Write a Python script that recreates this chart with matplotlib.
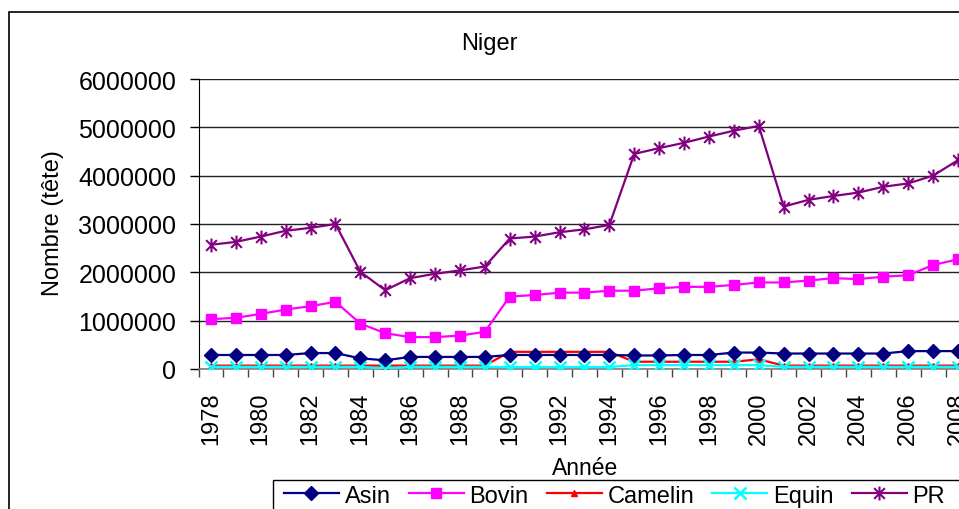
import matplotlib
matplotlib.use("Agg")
import matplotlib.pyplot as plt
from matplotlib.path import Path
from matplotlib.patches import Rectangle

# ── Data ──────────────────────────────────────────────────────────────────────
YEARS = list(range(1978, 2009))

ASIN = [290000, 290000, 290000, 290000, 330000, 330000, 220000, 180000,
        250000, 250000, 250000, 250000, 290000, 290000, 290000, 290000,
        290000, 280000, 280000, 290000, 290000, 340000, 340000, 320000,
        320000, 320000, 320000, 320000, 370000, 370000, 370000]

BOVIN = [1030000, 1060000, 1140000, 1230000, 1300000, 1390000, 940000, 740000,
         660000, 660000, 690000, 770000, 1500000, 1530000, 1580000, 1580000,
         1620000, 1620000, 1670000, 1700000, 1700000, 1740000, 1790000, 1790000,
         1830000, 1880000, 1860000, 1910000, 1940000, 2150000, 2270000]

CAMELIN = [70000, 70000, 70000, 70000, 70000, 70000, 70000, 70000,
           70000, 70000, 70000, 70000, 355000, 355000, 355000, 355000,
           355000, 150000, 150000, 150000, 150000, 150000, 200000, 70000,
           70000, 70000, 70000, 70000, 70000, 70000, 70000]

EQUIN = [45000, 45000, 45000, 45000, 45000, 45000, 45000, 10000,
         45000, 45000, 45000, 45000, 40000, 40000, 40000, 40000,
         40000, 80000, 80000, 80000, 80000, 80000, 80000, 45000,
         45000, 45000, 45000, 45000, 45000, 45000, 45000]

PR = [2570000, 2630000, 2740000, 2860000, 2920000, 3000000, 2010000, 1630000,
      1880000, 1970000, 2040000, 2120000, 2700000, 2740000, 2830000, 2890000,
      2980000, 4450000, 4570000, 4680000, 4810000, 4930000, 5030000, 3360000,
      3500000, 3580000, 3650000, 3770000, 3840000, 4000000, 4320000]

Y_TICKS = [0, 1000000, 2000000, 3000000, 4000000, 5000000, 6000000]

# ── Figure ────────────────────────────────────────────────────────────────────
W, H = 959, 510
plt.rcParams["font.family"] = ["Liberation Sans", "DejaVu Sans"]
fig = plt.figure(figsize=(W / 100, H / 100), dpi=100)
fig.patch.set_facecolor("white")

# plot area runs past the right edge of the picture (cropped like the original)
px_year = 24.9
ax_left = 198.5
ax_w = 31 * px_year
ax = fig.add_axes([ax_left / W, 140 / H, ax_w / W, 290 / H])

# outer chart border
fig.patches.append(Rectangle((8.5 / W, -0.2), 2.0, 1.2 - 12.5 / H,
                             transform=fig.transFigure, fill=False,
                             edgecolor="black", lw=1.2, zorder=0))
# legend box (also runs off the picture)
fig.patches.append(Rectangle((272.7 / W, -0.2), 2.0, 0.2 + 1 - 481 / H,
                             transform=fig.transFigure, fill=False,
                             edgecolor="black", lw=1.0, zorder=0))

# Excel-style star marker: an X plus a vertical bar
star = Path([(-1, -1), (1, 1), (-1, 1), (1, -1), (0, -1.3), (0, 1.3)],
            [Path.MOVETO, Path.LINETO, Path.MOVETO, Path.LINETO,
             Path.MOVETO, Path.LINETO])

ax.plot(YEARS, ASIN, color="#000080", lw=1.6, marker="D", ms=7,
        mec="#000080", mfc="#000080", label="Asin", zorder=5)
ax.plot(YEARS, BOVIN, color="#FF00FF", lw=1.6, marker="s", ms=7.5,
        mec="#FF00FF", mfc="#FF00FF", label="Bovin", zorder=4)
ax.plot(YEARS, CAMELIN, color="#FF0000", lw=1.6, marker="^", ms=4,
        mec="#FF0000", mfc="#FF0000", label="Camelin", zorder=3)
ax.plot(YEARS, EQUIN, color="#00FFFF", lw=1.6, marker="x", ms=8, mew=1.8,
        mec="#00FFFF", label="Equin", zorder=6)
ax.plot(YEARS, PR, color="#800080", lw=1.6, marker=star, ms=10, mew=1.5,
        mec="#800080", mfc="none", label="PR", zorder=4)

# ── Axes ──────────────────────────────────────────────────────────────────────
ax.set_xlim(YEARS[0] - 0.5, YEARS[-1] + 0.5)
ax.set_ylim(0, 6000000)
ax.set_yticks(Y_TICKS)
ax.set_yticklabels([str(v) for v in Y_TICKS], fontsize=18)
ax.tick_params(axis="y", direction="out", length=6.5, width=1, pad=9.5)

# tick marks between categories, labels on every other year
ax.set_xticks([y - 0.5 for y in YEARS] + [YEARS[-1] + 0.5])
ax.set_xticklabels([])
ax.tick_params(axis="x", which="major", direction="out", length=6, width=1,
               color="#444444")
ax.set_xticks([y for y in YEARS if y % 2 == 0], minor=True)
ax.set_xticklabels([str(y) for y in YEARS if y % 2 == 0], minor=True,
                   rotation=90, fontsize=17)
ax.tick_params(axis="x", which="minor", length=0, pad=16)

ax.yaxis.grid(True, color="#222222", lw=1.0)
ax.set_axisbelow(True)
for s in ("top", "right"):
    ax.spines[s].set_visible(False)
ax.spines["left"].set_color("black")
ax.spines["bottom"].set_color("#808080")
ax.spines["bottom"].set_linewidth(1.2)

# ── Texts ─────────────────────────────────────────────────────────────────────
fig.text(489 / W, 1 - 50 / H, "Niger", ha="center", va="baseline",
         fontsize=17)
fig.text(53 / W, 1 - 223.5 / H, "Nombre (tête)", ha="center", va="center",
         rotation=90, fontsize=17)
fig.text(585 / W, 1 - 475 / H, "Année", ha="center", va="baseline",
         fontsize=16.5)

# ── Legend ────────────────────────────────────────────────────────────────────
leg = fig.legend(loc="upper left", bbox_to_anchor=(279 / W, 1 - 481 / H),
                 bbox_transform=fig.transFigure, borderaxespad=0,
                 ncol=5, fontsize=17, frameon=False,
                 handlelength=2.33, handletextpad=0.25, columnspacing=0.76,
                 borderpad=0.2)

fig.savefig("out.png", dpi=100)
